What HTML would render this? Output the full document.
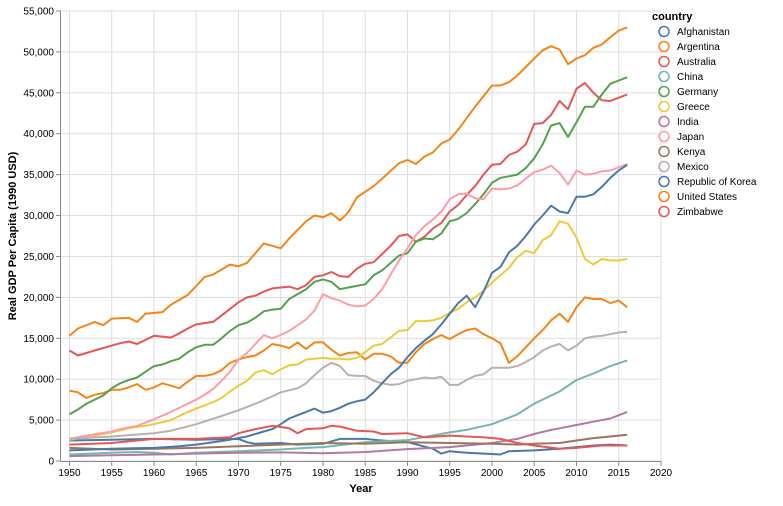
<!DOCTYPE html>
<html><head><meta charset="utf-8"><style>
body{margin:0;background:#fff;font-family:"Liberation Sans",sans-serif;}
svg text{font-family:"Liberation Sans",sans-serif;}
</style></head><body>
<svg id="chart" width="783" height="501" xmlns="http://www.w3.org/2000/svg">
<g id="grid"></g>
<g id="lines"></g>
<g id="axes"></g>
<text x="361" y="492" text-anchor="middle" font-size="11" font-weight="bold">Year</text>
<text transform="translate(16,236) rotate(-90)" text-anchor="middle" font-size="11" font-weight="bold">Real GDP Per Capita (1990 USD)</text>
<g id="legend">
<text x="652" y="20" font-size="11" font-weight="bold">country</text>
</g>
</svg>
<script>
const countries=["Afghanistan","Argentina","Australia","China","Germany","Greece","India","Japan","Kenya","Mexico","Republic of Korea","United States","Zimbabwe"];
const colors=["#4c78a8","#f58518","#e45756","#72b7b2","#54a24b","#eeca3b","#b279a2","#ff9da6","#9d755d","#bab0ac","#4c78a8","#f58518","#e45756"];
const xTicks=[1950,1955,1960,1965,1970,1975,1980,1985,1990,1995,2000,2005,2010,2015,2020];
const yTicks=[0,5000,10000,15000,20000,25000,30000,35000,40000,45000,50000,55000];

const yearsAfghanistan=[1950,1955,1960,1965,1970,1971,1972,1975,1977,1980,1982,1985,1987,1990,1993,1994,1995,1997,2000,2001,2002,2005,2008,2010,2012,2014,2016];
const gdpAfghanistan=[2500,2600,2700,2600,2700,2300,2100,2200,2000,2100,2700,2700,2500,2300,1500,900,1200,1000,850,800,1200,1300,1500,1700,1900,2000,1900];

const yearsArgentina=[1950,1951,1952,1953,1954,1955,1956,1957,1958,1959,1960,1961,1962,1963,1964,1965,1966,1967,1968,1969,1970,1971,1972,1973,1974,1975,1976,1977,1978,1979,1980,1981,1982,1983,1984,1985,1986,1987,1988,1989,1990,1991,1992,1993,1994,1995,1996,1997,1998,1999,2000,2001,2002,2003,2004,2005,2006,2007,2008,2009,2010,2011,2012,2013,2014,2015,2016];
const gdpArgentina=[8600,8400,7700,8100,8300,8700,8700,9000,9400,8700,9000,9500,9200,8900,9700,10400,10400,10600,11100,12000,12400,12700,12900,13500,14300,14100,13800,14500,13700,14500,14500,13600,12900,13200,13300,12400,13100,13100,12800,12000,12000,13300,14300,14900,15400,14900,15500,16000,16200,15500,15000,14400,12000,12800,13900,15000,16000,17200,18000,17000,18800,20000,19800,19800,19300,19600,18800];

const yearsAustralia=[1950,1951,1953,1955,1956,1957,1958,1959,1960,1962,1963,1964,1965,1967,1968,1970,1971,1972,1973,1974,1975,1976,1977,1978,1979,1980,1981,1982,1983,1984,1985,1986,1988,1989,1990,1991,1992,1993,1994,1995,1996,1997,1998,1999,2000,2001,2002,2003,2004,2005,2006,2007,2008,2009,2010,2011,2012,2013,2014,2015,2016];
const gdpAustralia=[13500,12900,13500,14100,14400,14600,14300,14800,15300,15100,15600,16200,16700,17000,17800,19400,20000,20200,20700,21100,21200,21300,21000,21500,22500,22700,23100,22600,22500,23500,24100,24300,26300,27500,27700,26800,27400,28400,29100,30500,31300,32500,33600,35000,36200,36300,37400,37800,38700,41200,41300,42300,44000,43000,45500,46200,45000,44100,44000,44400,44800];

const yearsChina=[1950,1955,1958,1960,1962,1965,1970,1975,1978,1980,1985,1990,1995,1997,2000,2003,2005,2007,2008,2010,2012,2014,2016];
const gdpChina=[800,1000,1100,1000,800,1000,1200,1400,1600,1700,2300,2550,3500,3800,4500,5700,7000,8000,8500,9900,10700,11600,12300];

const yearsGermany=[1950,1951,1952,1953,1954,1955,1956,1957,1958,1959,1960,1961,1962,1963,1964,1965,1966,1967,1968,1969,1970,1971,1972,1973,1974,1975,1976,1977,1978,1979,1980,1981,1982,1983,1984,1985,1986,1987,1988,1989,1990,1991,1992,1993,1994,1995,1996,1997,1998,1999,2000,2001,2002,2003,2004,2005,2006,2007,2008,2009,2010,2011,2012,2013,2014,2015,2016];
const gdpGermany=[5700,6300,7000,7500,8000,8900,9500,9900,10200,10900,11600,11800,12200,12500,13300,13900,14200,14200,15000,15900,16600,16900,17500,18300,18500,18600,19800,20400,21000,21900,22200,21900,21000,21200,21400,21600,22700,23300,24200,25100,25400,26800,27200,27100,27800,29300,29600,30300,31400,32600,34000,34600,34800,35000,35800,37000,38700,41000,41300,39600,41400,43300,43300,44800,46100,46500,46900];

const yearsGreece=[1950,1952,1953,1955,1957,1959,1960,1962,1963,1964,1965,1966,1967,1968,1969,1970,1971,1972,1973,1974,1975,1976,1977,1978,1979,1980,1981,1982,1983,1984,1985,1986,1987,1988,1989,1990,1991,1992,1993,1994,1995,1996,1997,1998,1999,2000,2001,2002,2003,2004,2005,2006,2007,2008,2009,2010,2011,2012,2013,2014,2015,2016];
const gdpGreece=[2600,2900,3100,3500,4000,4300,4500,5000,5500,6000,6400,6800,7200,7700,8500,9200,9800,10800,11100,10600,11200,11700,11800,12400,12500,12600,12500,12500,12400,12600,13300,14100,14300,15100,15900,16000,17100,17100,17200,17500,18100,18600,19400,20000,20800,21800,22700,23600,24900,25700,25400,27000,27600,29300,29000,27300,24700,24000,24700,24500,24500,24700];

const yearsIndia=[1950,1955,1960,1965,1970,1975,1980,1985,1990,1995,2000,2003,2005,2007,2008,2010,2012,2014,2016];
const gdpIndia=[600,700,800,900,1000,1050,950,1100,1450,1700,2200,2700,3300,3800,4000,4400,4800,5200,6000];

const yearsJapan=[1950,1952,1955,1956,1958,1960,1962,1964,1965,1966,1967,1968,1969,1970,1971,1972,1973,1974,1975,1976,1977,1978,1979,1980,1981,1982,1983,1984,1985,1986,1987,1988,1989,1990,1991,1992,1993,1994,1995,1996,1997,1998,1999,2000,2001,2002,2003,2004,2005,2006,2007,2008,2009,2010,2011,2012,2013,2014,2015,2016];
const gdpJapan=[2700,3100,3600,3900,4300,5100,6000,7000,7500,8100,8800,9800,10900,12400,13200,14300,15400,15000,15400,15900,16600,17300,18400,20400,19900,19600,19100,18900,19000,19800,21000,22800,24500,26000,27600,28700,29500,30500,32000,32600,32700,32100,32000,33300,33200,33300,33700,34500,35300,35600,36100,35200,33800,35500,35000,35100,35400,35500,35900,36300];

const yearsKenya=[1950,1955,1960,1965,1970,1975,1980,1985,1990,1995,2000,2003,2005,2008,2010,2012,2014,2016];
const gdpKenya=[1600,1400,1500,1600,1800,2000,2200,2100,2300,2200,2100,2000,2100,2200,2500,2800,3000,3200];

const yearsMexico=[1950,1955,1960,1962,1965,1968,1970,1972,1974,1975,1977,1978,1979,1980,1981,1982,1983,1984,1985,1986,1987,1988,1989,1990,1991,1992,1993,1994,1995,1996,1997,1998,1999,2000,2001,2002,2003,2004,2005,2006,2007,2008,2009,2010,2011,2012,2013,2014,2015,2016];
const gdpMexico=[2700,3000,3400,3700,4500,5500,6200,7000,7900,8400,8900,9500,10500,11400,12000,11600,10500,10400,10400,9800,9500,9300,9400,9800,10000,10200,10100,10300,9300,9300,9900,10400,10600,11400,11400,11400,11600,12100,12700,13500,14000,14300,13500,14100,15000,15200,15300,15500,15700,15800];

const yearsKorea=[1950,1955,1960,1963,1965,1967,1969,1971,1973,1974,1975,1976,1977,1978,1979,1980,1981,1982,1983,1984,1985,1986,1987,1988,1989,1990,1991,1992,1993,1994,1995,1996,1997,1998,1999,2000,2001,2002,2003,2004,2005,2006,2007,2008,2009,2010,2011,2012,2013,2014,2015,2016];
const gdpKorea=[1300,1500,1600,1800,2000,2300,2600,3000,3600,3900,4500,5200,5600,6000,6400,5900,6100,6500,7000,7300,7500,8400,9500,10600,11400,12700,13800,14700,15500,16700,18000,19300,20200,18800,20700,23000,23700,25500,26300,27500,28900,30000,31200,30500,30300,32300,32300,32600,33500,34600,35500,36200];

const yearsUS=[1950,1951,1953,1954,1955,1957,1958,1959,1961,1962,1964,1966,1967,1969,1970,1971,1973,1974,1975,1976,1978,1979,1980,1981,1982,1983,1984,1986,1987,1989,1990,1991,1992,1993,1994,1995,1996,1998,2000,2001,2002,2003,2005,2006,2007,2008,2009,2010,2011,2012,2013,2014,2015,2016];
const gdpUS=[15300,16200,17000,16600,17400,17500,17000,18000,18200,19100,20300,22500,22800,24000,23800,24200,26600,26300,26000,27200,29300,30000,29800,30300,29400,30400,32200,33600,34500,36400,36800,36300,37200,37700,38800,39300,40500,43300,45900,45900,46300,47100,49200,50200,50700,50300,48500,49200,49600,50500,50900,51800,52600,53000];

const yearsZimbabwe=[1950,1955,1960,1965,1969,1970,1972,1974,1976,1977,1978,1980,1981,1982,1984,1986,1987,1990,1992,1995,1997,1999,2001,2003,2005,2008,2010,2013,2016];
const gdpZimbabwe=[2000,2200,2700,2700,2900,3400,3900,4300,4000,3400,3900,4000,4300,4200,3700,3600,3300,3400,2900,3100,3000,2900,2700,2200,1900,1500,1600,1900,1900];

const seriesYears=[yearsAfghanistan,yearsArgentina,yearsAustralia,yearsChina,yearsGermany,yearsGreece,yearsIndia,yearsJapan,yearsKenya,yearsMexico,yearsKorea,yearsUS,yearsZimbabwe];
const seriesValues=[gdpAfghanistan,gdpArgentina,gdpAustralia,gdpChina,gdpGermany,gdpGreece,gdpIndia,gdpJapan,gdpKenya,gdpMexico,gdpKorea,gdpUS,gdpZimbabwe];

const NS="http://www.w3.org/2000/svg";
const X0=61,W=600,Y0=11,H=450,XMIN=1949,XMAX=2020,YMAX=55000;
function xs(v){return X0+(v-XMIN)/(XMAX-XMIN)*W;}
function ys(v){return Y0+H-(v/YMAX)*H;}
function mk(tag,attrs,parent){const e=document.createElementNS(NS,tag);for(const k in attrs)e.setAttribute(k,attrs[k]);parent.appendChild(e);return e;}
const grid=document.getElementById('grid'),axes=document.getElementById('axes'),lines=document.getElementById('lines'),legend=document.getElementById('legend');
xTicks.forEach(t=>{
 const gl=mk('line',{x1:xs(t),x2:xs(t),y1:Y0,y2:Y0+H,stroke:'#ddd','stroke-width':1},grid);
 
 
 const tk=mk('line',{x1:xs(t),x2:xs(t),y1:Y0+H,y2:Y0+H+5,stroke:'#888'},axes);
 
 
 const tl=mk('text',{x:xs(t),y:Y0+H+15,'text-anchor':'middle','font-size':10,fill:'#000'},axes);
 
 
 tl.textContent=t;
});
yTicks.forEach(t=>{
 const gl=mk('line',{x1:X0,x2:X0+W,y1:ys(t),y2:ys(t),stroke:'#ddd','stroke-width':1},grid);
 
 
 const tk=mk('line',{x1:X0-5,x2:X0,y1:ys(t),y2:ys(t),stroke:'#888'},axes);
 
 
 const tl=mk('text',{x:X0-7,y:ys(t)+3.5,'text-anchor':'end','font-size':10,fill:'#000'},axes);
 
 
 tl.textContent=t.toLocaleString('en-US');
});
const xa=mk('line',{x1:X0,x2:X0+W,y1:Y0+H+0.5,y2:Y0+H+0.5,stroke:'#888'},axes);


const ya=mk('line',{x1:X0-0.5,x2:X0-0.5,y1:Y0,y2:Y0+H,stroke:'#888'},axes);


countries.forEach((c,i)=>{
 const yr=seriesYears[i],vals=seriesValues[i];
 const d=yr.map((y,j)=>(j?'L':'M')+xs(y).toFixed(1)+','+ys(vals[j]).toFixed(1)).join('');
 const p=mk('path',{d:d,fill:'none',stroke:colors[i],'stroke-width':2,'stroke-linejoin':'round'},lines);
 
 
 const ly=35+i*15;
 const g=mk('g',{},legend);
 
 
 mk('circle',{cx:664,cy:ly-3.5,r:5,fill:'none',stroke:colors[i],'stroke-width':1.5},g);
 const t=mk('text',{x:677,y:ly,'font-size':10,fill:'#000'},g);
 t.textContent=c;
});
</script>
</body></html>
